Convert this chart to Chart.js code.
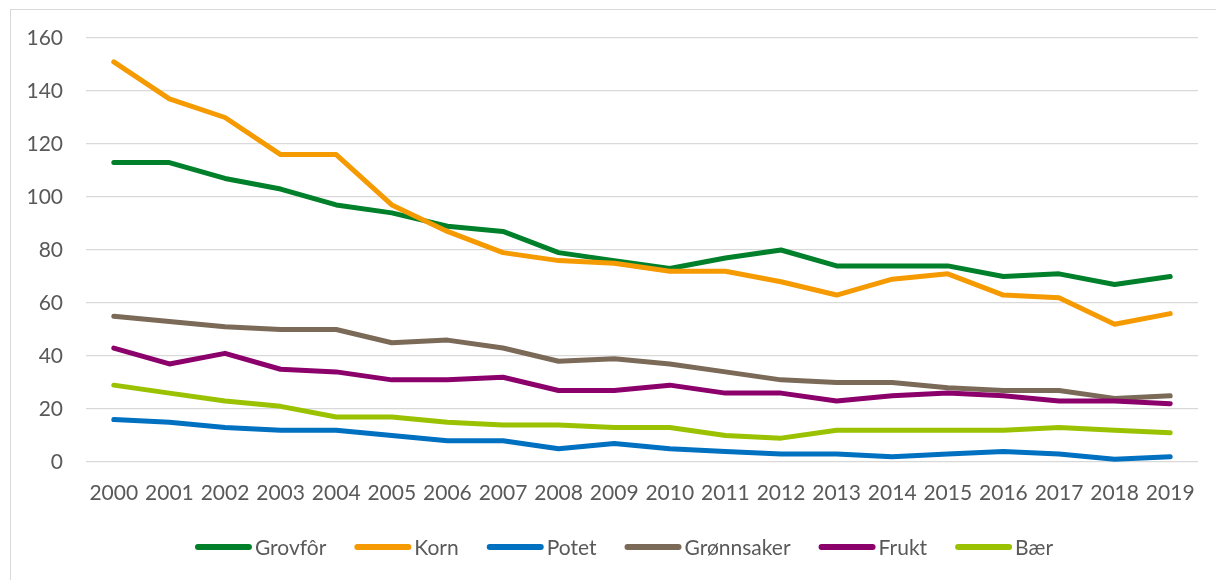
<!DOCTYPE html>
<html>
<head>
<meta charset="utf-8">
<script src="https://cdn.jsdelivr.net/npm/chart.js@4/dist/chart.umd.min.js"></script>
<style>
  html, body { margin: 0; padding: 0; background: #ffffff; overflow: hidden; }
  #wrap { position: relative; width: 1216px; height: 580px; overflow: hidden; }
  #frame { position: absolute; left: 10px; top: 9px; width: 1400px; height: 800px; border: 1px solid #d9d9d9; box-sizing: border-box; }
  canvas { position: absolute; left: 0; top: 0; }
</style>
</head>
<body>
<div id="wrap">
  <div id="frame"></div>
  <canvas id="c" width="1216" height="580"></canvas>
</div>
<script>
const years = ['2000','2001','2002','2003','2004','2005','2006','2007','2008','2009','2010','2011','2012','2013','2014','2015','2016','2017','2018','2019'];
const seriesNames = ['Grovfôr','Korn','Potet','Grønnsaker','Frukt','Bær'];
const grovfor    = [113,113,107,103,97,94,89,87,79,76,73,77,80,74,74,74,70,71,67,70];
const korn       = [151,137,130,116,116,97,87,79,76,75,72,72,68,63,69,71,63,62,52,56];
const potet      = [16,15,13,12,12,10,8,8,5,7,5,4,3,3,2,3,4,3,1,2];
const gronnsaker = [55,53,51,50,50,45,46,43,38,39,37,34,31,30,30,28,27,27,24,25];
const frukt      = [43,37,41,35,34,31,31,32,27,27,29,26,26,23,25,26,25,23,23,22];
const baer       = [29,26,23,21,17,17,15,14,14,13,13,10,9,12,12,12,12,13,12,11];
const yTicks = [0,20,40,60,80,100,120,140,160];

const seriesValues = [grovfor, korn, potet, gronnsaker, frukt, baer];
const colors = ['#00802b','#f59a00','#0070c0','#7b6a58','#8b006b','#9bc200'];

Chart.defaults.font.family = 'Lato, "Open Sans", sans-serif';
Chart.defaults.font.size = 21;
Chart.defaults.color = '#595959';

const legendPlugin = {
  id: 'bottomLegend',
  afterDraw(chart) {
    const ctx = chart.ctx;
    ctx.save();
    ctx.font = '21px Lato, "Open Sans", sans-serif';
    const items = chart.data.datasets.map(d => ({ label: d.label, color: d.borderColor, w: ctx.measureText(d.label).width }));
    const markerW = 57, gapText = 3, gapItem = 28;
    const total = items.reduce((s, it) => s + markerW + gapText + it.w, 0) + gapItem * (items.length - 1);
    let x = 624 - total / 2;
    const y = 547;
    ctx.textBaseline = 'middle';
    ctx.textAlign = 'left';
    items.forEach(it => {
      ctx.strokeStyle = it.color;
      ctx.lineWidth = 6;
      ctx.lineCap = 'round';
      ctx.beginPath();
      ctx.moveTo(x + 3, y);
      ctx.lineTo(x + markerW - 3, y);
      ctx.stroke();
      ctx.fillStyle = '#595959';
      ctx.fillText(it.label, x + markerW + gapText, y + 1);
      x += markerW + gapText + it.w + gapItem;
    });
    ctx.restore();
  }
};

new Chart(document.getElementById('c'), {
  type: 'line',
  data: {
    labels: years,
    datasets: seriesNames.map((name, i) => ({
      label: name,
      data: seriesValues[i],
      borderColor: colors[i],
      backgroundColor: colors[i],
      borderWidth: 5,
      pointRadius: 0,
      tension: 0,
      borderCapStyle: 'round',
      borderJoinStyle: 'round',
      fill: false,
      order: seriesNames.length - i
    }))
  },
  options: {
    responsive: false,
    animation: false,
    layout: { padding: { left: 10, right: 18, top: 38, bottom: 0 } },
    plugins: { legend: { display: false }, tooltip: { enabled: false } },
    scales: {
      x: {
        offset: true,
        grid: { display: false, drawTicks: false },
        border: { display: false },
        ticks: { padding: 19, maxRotation: 0, autoSkip: false },
        afterFit(s) { s.height = 118; }
      },
      y: {
        min: 0,
        max: 160,
        afterBuildTicks(s) { s.ticks = yTicks.map(v => ({ value: v })); },
        grid: { color: '#d9d9d9', lineWidth: 1.3, drawTicks: false },
        border: { display: false },
        ticks: { padding: 23 },
        afterFit(s) { s.width = 76; }
      }
    }
  },
  plugins: [legendPlugin]
});
</script>
</body>
</html>
